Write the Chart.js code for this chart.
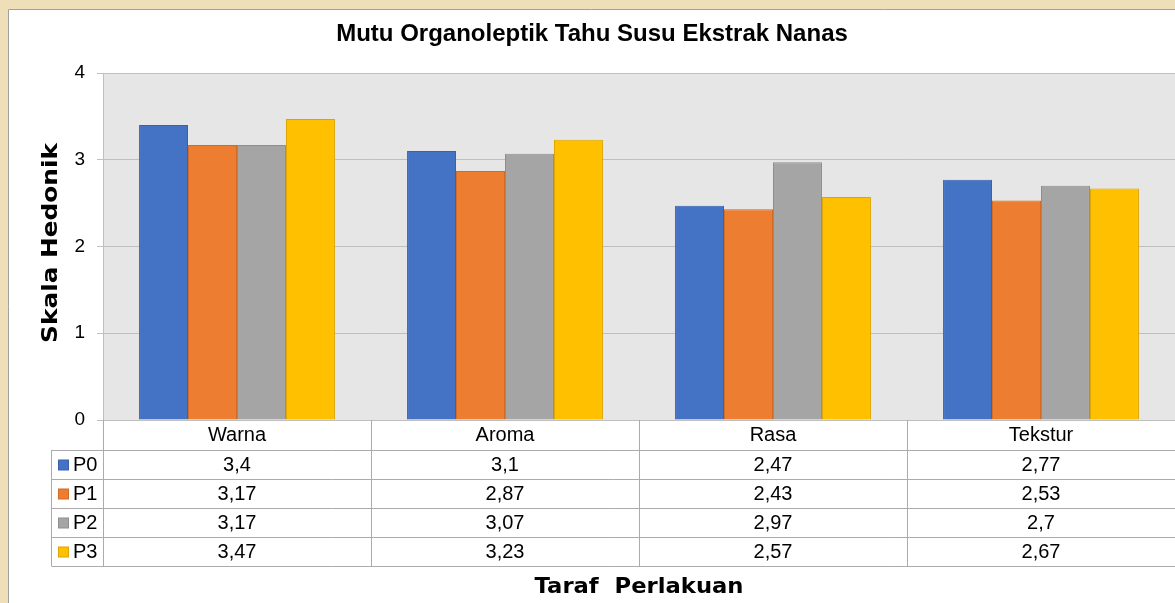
<!DOCTYPE html>
<html>
<head>
<meta charset="utf-8">
<script src="https://cdn.jsdelivr.net/npm/chart.js@4.4.0/dist/chart.umd.min.js"></script>
<style>
  html, body { margin: 0; padding: 0; background: #EFDFB8; }
  canvas { display: block; }
</style>
</head>
<body>
<canvas id="c" width="1175" height="603"></canvas>
<script>
const categories = ['Warna', 'Aroma', 'Rasa', 'Tekstur'];
const seriesNames = ['P0', 'P1', 'P2', 'P3'];
const P0 = [3.4, 3.1, 2.47, 2.77];
const P1 = [3.17, 2.87, 2.43, 2.53];
const P2 = [3.17, 3.07, 2.97, 2.7];
const P3 = [3.47, 3.23, 2.57, 2.67];
const yTicks = [0, 1, 2, 3, 4];
const titleText = 'Mutu Organoleptik Tahu Susu Ekstrak Nanas';
const yTitle = 'Skala Hedonik';
const xTitle = 'Taraf  Perlakuan';

const fills = ['#4472C4', '#ED7D31', '#A5A5A5', '#FFC000'];
const borders = ['#3762AE', '#D26A22', '#8E8E8E', '#DDA500'];
const seriesData = [P0, P1, P2, P3];

const FONT = '"Liberation Sans", Arial, sans-serif';
const HEAVY = '"DejaVu Sans", "Liberation Sans", sans-serif';
const fmt = v => String(v).replace('.', ',');

const framePlugin = {
  id: 'frame',
  beforeDraw(chart) {
    const ctx = chart.ctx, a = chart.chartArea;
    ctx.save();
    ctx.fillStyle = '#EFDFB8';
    ctx.fillRect(0, 0, chart.width, chart.height);
    ctx.fillStyle = '#FFFFFF';
    ctx.fillRect(8, 9, chart.width - 8, chart.height - 9);
    ctx.strokeStyle = '#A0A0A0';
    ctx.lineWidth = 1;
    ctx.beginPath();
    ctx.moveTo(8.5, chart.height);
    ctx.lineTo(8.5, 9.5);
    ctx.lineTo(chart.width, 9.5);
    ctx.stroke();
    ctx.fillStyle = '#E6E6E6';
    ctx.fillRect(a.left, a.top, a.right - a.left, a.bottom - a.top);
    ctx.restore();
  },
  afterDraw(chart) {
    const ctx = chart.ctx, a = chart.chartArea;
    const xs = chart.scales.x;
    const n = categories.length;
    const cw = (a.right - a.left) / n;
    const rowH = 29;
    const headTop = a.bottom;
    const headBot = headTop + 30;
    const tableBot = headBot + rowH * seriesNames.length;
    const keyLeft = 51.5;
    ctx.save();
    ctx.strokeStyle = '#ABABAB';
    ctx.lineWidth = 1;
    ctx.beginPath();
    for (let i = 0; i <= n; i++) {
      const x = Math.round(a.left + i * cw) + 0.5;
      ctx.moveTo(x, headTop);
      ctx.lineTo(x, tableBot);
    }
    ctx.moveTo(keyLeft, headBot);
    ctx.lineTo(keyLeft, tableBot);
    for (let r = 0; r <= seriesNames.length; r++) {
      const y = Math.round(headBot + r * rowH) + 0.5;
      ctx.moveTo(keyLeft, y);
      ctx.lineTo(a.right, y);
    }
    ctx.stroke();

    ctx.fillStyle = '#000';
    ctx.textAlign = 'center';
    ctx.textBaseline = 'middle';
    ctx.font = '20px ' + FONT;
    categories.forEach((c, i) => {
      ctx.fillText(c, xs.getPixelForValue(i), headTop + 15);
    });
    seriesNames.forEach((s, r) => {
      const yc = headBot + r * rowH + rowH / 2 + 1;
      ctx.fillStyle = borders[r];
      ctx.fillRect(58, yc - 6, 11, 11);
      ctx.fillStyle = fills[r];
      ctx.fillRect(59, yc - 5, 9, 9);
      ctx.fillStyle = '#000';
      ctx.textAlign = 'left';
      ctx.fillText(s, 73, yc);
      ctx.textAlign = 'center';
      seriesData[r].forEach((v, i) => {
        ctx.fillText(fmt(v), xs.getPixelForValue(i), yc);
      });
    });

    // chart title
    ctx.font = 'bold 24px ' + FONT;
    ctx.textAlign = 'center';
    ctx.textBaseline = 'alphabetic';
    ctx.fillText(titleText, 592, 41);

    // axis titles (heavy, widened along text direction)
    ctx.font = 'bold 21px ' + HEAVY;
    ctx.save();
    ctx.translate(639, 593);
    ctx.scale(1.08, 1);
    ctx.fillText(xTitle, 0, 0);
    ctx.restore();
    ctx.save();
    ctx.translate(57, 243);
    ctx.rotate(-Math.PI / 2);
    ctx.scale(1.18, 1);
    ctx.fillText(yTitle, 0, 0);
    ctx.restore();
    ctx.restore();
  }
};

new Chart(document.getElementById('c'), {
  type: 'bar',
  data: {
    labels: categories,
    datasets: seriesNames.map((s, i) => ({
      label: s,
      data: seriesData[i],
      backgroundColor: fills[i],
      borderColor: borders[i],
      borderWidth: 1,
      categoryPercentage: 0.731,
      barPercentage: 1.0
    }))
  },
  options: {
    responsive: false,
    animation: false,
    events: [],
    layout: { padding: { top: 73, left: 0, right: 0, bottom: 0 } },
    plugins: {
      legend: { display: false },
      title: { display: false },
      tooltip: { enabled: false }
    },
    scales: {
      x: {
        grid: { display: false, drawTicks: false },
        border: { display: true, color: '#BFBFBF' },
        ticks: { display: false },
        afterFit(scale) { scale.height = 183; }
      },
      y: {
        min: 0,
        max: 4,
        afterBuildTicks(scale) { scale.ticks = yTicks.map(v => ({ value: v })); },
        ticks: {
          color: '#000',
          font: { family: FONT, size: 19 },
          padding: 12
        },
        grid: { color: '#BFBFBF', tickLength: 6, drawTicks: true },
        border: { display: true, color: '#BFBFBF' },
        afterFit(scale) { scale.width = 103; }
      }
    }
  },
  plugins: [framePlugin]
});
</script>
</body>
</html>
